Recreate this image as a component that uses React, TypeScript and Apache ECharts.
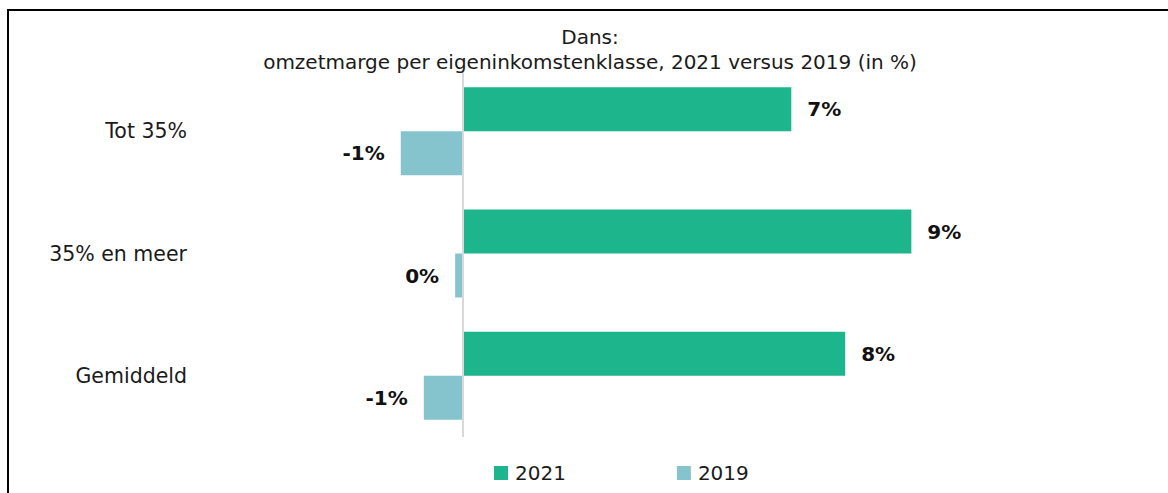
import React, { useEffect, useRef } from "react";
import * as echarts from "echarts";

const categories = ["Tot 35%", "35% en meer", "Gemiddeld"];
const values2021 = [6.7, 9.15, 7.8];
const values2019 = [-1.27, -0.16, -0.8];
const seriesNames = ["2021", "2019"];
const titleLines = ["Dans:", "omzetmarge per eigeninkomstenklasse, 2021 versus 2019 (in %)"];

const GREEN = "#1db58b";
const BLUE = "#86c4cd";
const FONT = "DejaVu Sans";

export default function App() {
  const ref = useRef<HTMLDivElement>(null);
  useEffect(() => {
    document.body.style.margin = "0";
    const chart = echarts.init(ref.current!, null, { renderer: "svg" });
    const mkData = (arr: number[]) =>
      arr.map((v) => ({
        value: v,
        label: { position: v < 0 ? "left" : "right" },
      }));
    const labelCfg = {
      show: true,
      distance: 16,
      fontFamily: FONT,
      fontWeight: "bold",
      fontSize: 20,
      color: "#111",
      formatter: (p: any) => `${Math.round(p.value) === 0 ? 0 : Math.round(p.value)}%`,
    };
    chart.setOption({
      animation: false,
      backgroundColor: "#fff",
      title: {
        text: titleLines.join("\n"),
        left: 590,
        top: 24,
        textAlign: "center",
        padding: 0,
        textStyle: {
          fontFamily: FONT,
          fontWeight: "normal",
          fontSize: 20,
          lineHeight: 25,
          color: "#1a1a1a",
        },
      },
      legend: {
        data: seriesNames,
        left: 489,
        top: 458,
        icon: "rect",
        itemWidth: 14,
        itemHeight: 14,
        itemGap: 111,
        textStyle: { fontFamily: FONT, fontSize: 20, color: "#1a1a1a", padding: [0, 0, 0, 2] },
      },
      graphic: [
        {
          type: "rect",
          shape: { x: 8, y: 10, width: 1300, height: 700 },
          style: { fill: "none", stroke: "#000", lineWidth: 2 },
          silent: true,
        },
      ],
      grid: { left: 218, right: 215, top: 70, bottom: 56, containLabel: false },
      xAxis: {
        type: "value",
        min: -5,
        max: 10,
        show: false,
      },
      yAxis: {
        type: "category",
        data: categories,
        inverse: true,
        axisLine: { show: false },
        axisTick: { show: false },
        axisLabel: {
          margin: 31,
          fontFamily: FONT,
          fontSize: 20.5,
          color: "#1a1a1a",
        },
      },
      series: [
        {
          name: seriesNames[0],
          type: "bar",
          data: mkData(values2021),
          barWidth: 44,
          barGap: "0%",
          itemStyle: { color: GREEN },
          label: labelCfg,
          markLine: {
            silent: true,
            symbol: "none",
            label: { show: false },
            lineStyle: { color: "#d9d9d9", width: 2, type: "solid" },
            data: [{ xAxis: 0 }],
          },
        },
        {
          name: seriesNames[1],
          type: "bar",
          data: mkData(values2019),
          barWidth: 44,
          barGap: "0%",
          itemStyle: { color: BLUE },
          label: labelCfg,
        },
      ],
    });
    return () => chart.dispose();
  }, []);
  return <div ref={ref} style={{ width: 1168, height: 493 }} />;
}
